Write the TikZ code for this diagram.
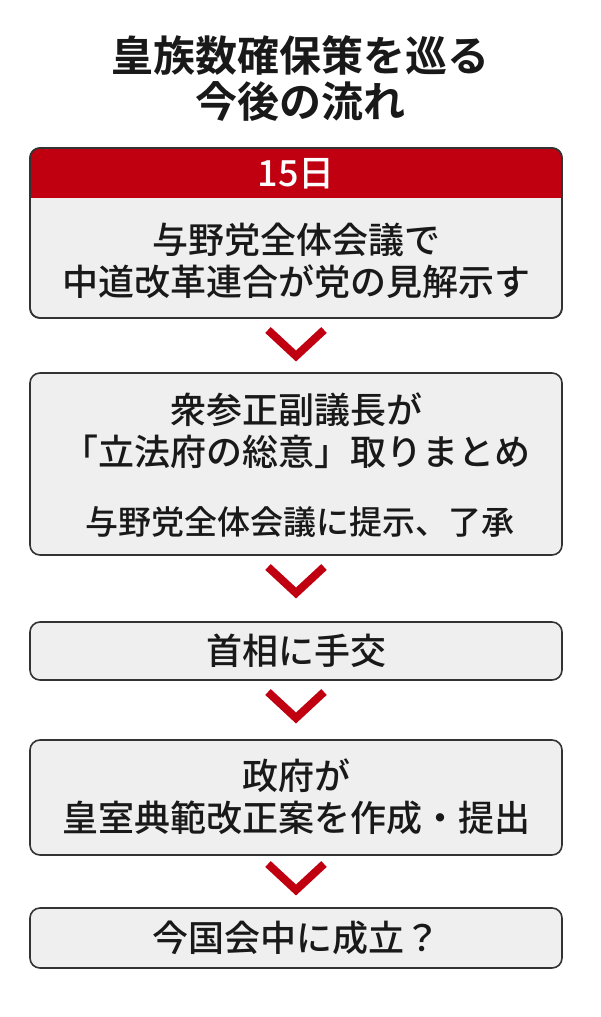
\documentclass[tikz,border=0pt]{standalone}
\usepackage{fontspec}
\newfontfamily\cjk{Noto Sans CJK JP Medium}
\newfontfamily\cjkb{Noto Sans CJK JP Bold}
\definecolor{hred}{HTML}{C00010}
\definecolor{boxfill}{HTML}{EFEFEF}
\begin{document}
\begin{tikzpicture}[x=1pt,y=-1pt,
  box/.style={draw=black!80,line width=1.6pt,rounded corners=10pt,fill=boxfill},
  txt/.style={font=\cjk\fontsize{36}{40}\selectfont,text=black!90},
  chev/.style={draw=hred,line width=8pt,line cap=butt,line join=miter}]
\useasboundingbox (0,0) rectangle (600,1017);
\fill[white] (0,0) rectangle (600,1017);
\node[txt,font=\cjkb\fontsize{42}{46}\selectfont] (t1) at (300,55) {皇族数確保策を巡る};
\node[txt,font=\cjkb\fontsize{42}{46}\selectfont] (t2) at (300,101) {今後の流れ};
% box1
\draw[box] (30,148) rectangle (562,318);
\begin{scope}
\clip[rounded corners=10pt] (30,148) rectangle (562,318);
\fill[hred] (30,148) rectangle (562,198);
\end{scope}
\draw[black!80,line width=1.6pt,rounded corners=10pt] (30,148) rectangle (562,318);
\node[txt,text=white] (h) at (296,174) {15日};
\node[txt] (a1) at (296,240) {与野党全体会議で};
\node[txt] (a2) at (296,282) {中道改革連合が党の見解示す};
% arrows
\foreach \y [count=\i] in {330,567,692,864}{
  \draw[chev] (268,\y) coordinate (l\i) -- (296,\y+26) coordinate (m\i) -- (324,\y) coordinate (r\i);
}
% box2
\draw[box] (30,373) rectangle (562,555);
\node[txt] (b1) at (296,410) {衆参正副議長が};
\node[txt] (b2) at (296,452) {「立法府の総意」取りまとめ};
\node[txt,font=\cjk\fontsize{33}{36}\selectfont] (b3) at (300,522) {与野党全体会議に提示、了承};
% box3
\draw[box] (30,622) rectangle (562,680);
\node[txt] (c1) at (296,651) {首相に手交};
% box4
\draw[box] (30,740) rectangle (562,855);
\node[txt] (d1) at (296,776) {政府が};
\node[txt] (d2) at (296,818) {皇室典範改正案を作成・提出};
% box5
\draw[box] (30,908) rectangle (562,968);
\node[txt] (e1) at (296,938) {今国会中に成立？};
\end{tikzpicture}
\end{document}
